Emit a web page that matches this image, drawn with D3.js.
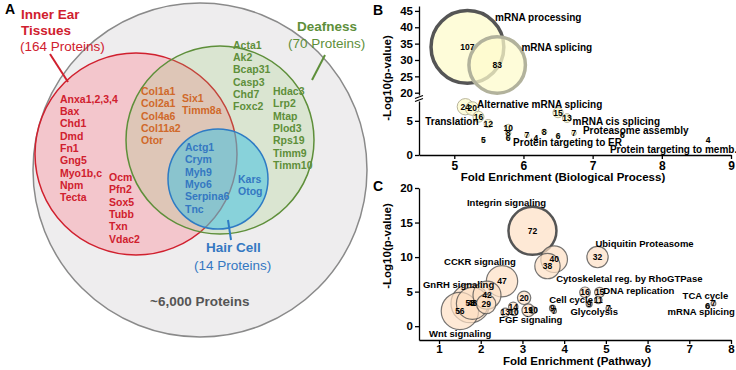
<!DOCTYPE html>
<html>
<head>
<meta charset="utf-8">
<script src="https://cdn.jsdelivr.net/npm/d3@7"></script>
<style>
  body { margin: 0; background: #fff; }
  svg { font-family: "Liberation Sans", Arial, sans-serif; }
</style>
</head>
<body>
<svg id="fig" width="736" height="370"></svg>
<script>
// ---------- Panel A data (Venn) ----------
const setInner = ['Inner Ear', 'Tissues', '(164 Proteins)'];
const setDeaf = ['Deafness', '(70 Proteins)'];
const setHair = ['Hair Cell', '(14 Proteins)'];
const totalLabel = '~6,000 Proteins';

const innerOnly1 = ['Anxa1,2,3,4', 'Bax', 'Chd1', 'Dmd', 'Fn1', 'Gng5', 'Myo1b,c', 'Npm', 'Tecta'];
const innerOnly2 = ['Ocm', 'Pfn2', 'Sox5', 'Tubb', 'Txn', 'Vdac2'];
const innerDeaf1 = ['Col1a1', 'Col2a1', 'Col4a6', 'Col11a2', 'Otor'];
const innerDeaf2 = ['Six1', 'Timm8a'];
const deafOnly1 = ['Acta1', 'Ak2', 'Bcap31', 'Casp3', 'Chd7', 'Foxc2'];
const deafOnly2 = ['Hdac3', 'Lrp2', 'Mtap', 'Plod3', 'Rps19', 'Timm9', 'Timm10'];
const hairShared = ['Actg1', 'Crym', 'Myh9', 'Myo6', 'Serpina6', 'Tnc'];
const hairDeaf = ['Kars', 'Otog'];

// ---------- Panel B data (biological process) ----------
const bpCount = [107, 83, 24, 20, 16, 12, 5, 10, 8, 6, 7, 4, 8, 6, 7, 15, 13, 6, 4];
const bpFold  = [5.19, 5.62, 5.16, 5.26, 5.35, 5.49, 5.42, 5.78, 5.78, 5.78, 6.05, 6.18, 6.30, 6.50, 6.73, 6.50, 6.63, 7.43, 8.67];
const bpLogP  = [34.0, 28.5, 7.06, 6.80, 5.60, 4.60, 2.20, 4.00, 3.20, 2.50, 2.90, 2.50, 3.40, 2.80, 3.20, 6.20, 5.40, 2.90, 2.20];

const bpTerms = ['mRNA processing', 'mRNA splicing', 'Alternative mRNA splicing', 'Translation',
  'mRNA cis splicing', 'Proteasome assembly', 'Protein targeting to ER', 'Protein targeting to memb.'];
const bpTermFold = [5.59, 5.97, 5.33, 4.58, 6.71, 6.86, 5.85, 7.25];
const bpTermLogP = [41.9, 32.8, 6.9, 4.41, 4.41, 3.09, 1.32, 0.29];

// ---------- Panel C data (pathway) ----------
const pwCount = [72, 40, 38, 32, 47, 56, 58, 48, 29, 42, 20, 14, 13, 10, 19, 10, 9, 7, 16, 15, 11, 9, 7, 6, 7];
const pwFold  = [3.24, 3.76, 3.60, 4.80, 2.51, 1.50, 1.75, 1.80, 2.13, 2.15, 3.04, 2.78, 2.59, 2.80, 3.14, 3.26, 3.72, 3.76, 4.50, 4.85, 4.82, 4.60, 5.06, 7.44, 7.58];
const pwLogP  = [13.8, 9.7, 8.7, 10.0, 6.5, 2.2, 3.3, 3.3, 3.2, 4.5, 4.1, 2.8, 2.0, 2.0, 2.3, 2.3, 2.6, 2.2, 4.9, 4.9, 3.8, 3.2, 2.6, 2.9, 3.3];

const pwTerms = ['Integrin signaling', 'Ubiquitin Proteasome', 'CCKR signaling', 'Cytoskeletal reg. by RhoGTPase',
  'GnRH signaling', 'DNA replication', 'TCA cycle', 'Cell cycle', 'Glycolysis', 'mRNA splicing', 'FGF signaling', 'Wnt signaling'];
const pwTermFold = [1.67, 4.75, 1.12, 3.81, 0.615, 4.94, 6.84, 3.64, 4.15, 6.48, 2.44, 0.76];
const pwTermLogP = [17.4, 11.45, 8.84, 6.38, 5.5, 4.64, 3.9, 3.33, 1.6, 1.6, 0.43, -1.6];

const bTicksHi = [20, 25, 30, 35, 40, 45];
const bTicksLo = [0, 5];
const bTicksX = [5, 6, 7, 8, 9];
const cTicksY = [0, 5, 10, 15, 20];
const cTicksX = [1, 2, 3, 4, 5, 6, 7, 8];

const svg = d3.select('#fig');
const fmt = d3.format('d');

// ================= Panel A =================
const gA = svg.append('g');

// background circles
gA.append('circle').attr('cx', 200).attr('cy', 170).attr('r', 167)
  .attr('fill', '#eeedee').attr('stroke', '#8a8a8a').attr('stroke-width', 1.5);
gA.append('circle').attr('cx', 136).attr('cy', 154).attr('r', 101)
  .attr('fill', 'rgba(255,110,125,0.3)').attr('stroke', '#d0202e').attr('stroke-width', 1.5);
gA.append('circle').attr('cx', 220).attr('cy', 140).attr('r', 94)
  .attr('fill', 'rgba(150,200,110,0.22)').attr('stroke', '#5e8f3a').attr('stroke-width', 1.5);
gA.append('circle').attr('cx', 218).attr('cy', 179).attr('r', 50)
  .attr('fill', 'rgba(70,195,225,0.55)').attr('stroke', '#2e7bc4').attr('stroke-width', 1.5);

// pointer lines
gA.append('line').attr('x1', 50).attr('y1', 54).attr('x2', 68).attr('y2', 82)
  .attr('stroke', '#d0202e').attr('stroke-width', 2);
gA.append('line').attr('x1', 325).attr('y1', 55).attr('x2', 312).attr('y2', 80)
  .attr('stroke', '#5e8f3a').attr('stroke-width', 2);
gA.append('line').attr('x1', 228).attr('y1', 220).attr('x2', 231).attr('y2', 240)
  .attr('stroke', '#2e7bc4').attr('stroke-width', 2);

gA.append('text').attr('x', 5).attr('y', 14).text('A')
  .attr('font-weight', 'bold').attr('font-size', 14);

// set titles
const red = '#d0202e', green = '#5e8f3a', blue = '#3478c2', orange = '#d0692a';
gA.append('text').attr('x', 21).attr('y', 19).text(setInner[0])
  .attr('fill', red).attr('font-weight', 'bold').attr('font-size', 13.5);
gA.append('text').attr('x', 21).attr('y', 35).text(setInner[1])
  .attr('fill', red).attr('font-weight', 'bold').attr('font-size', 13.5);
gA.append('text').attr('x', 20).attr('y', 51).text(setInner[2])
  .attr('fill', red).attr('font-size', 13.5);
gA.append('text').attr('x', 297).attr('y', 31).text(setDeaf[0])
  .attr('fill', green).attr('font-weight', 'bold').attr('font-size', 13.5);
gA.append('text').attr('x', 288).attr('y', 48).text(setDeaf[1])
  .attr('fill', green).attr('font-size', 13.5);
gA.append('text').attr('x', 206).attr('y', 252).text(setHair[0])
  .attr('fill', blue).attr('font-weight', 'bold').attr('font-size', 13.5);
gA.append('text').attr('x', 194).attr('y', 270).text(setHair[1])
  .attr('fill', blue).attr('font-size', 13.5);
gA.append('text').attr('x', 150).attr('y', 306).text(totalLabel)
  .attr('fill', '#555').attr('font-weight', 'bold').attr('font-size', 13.5);

// gene columns
const lineStep = 12.35;
function geneColumn(list, x, y0, color) {
  gA.append('g').selectAll('text').data(list).join('text')
    .attr('x', x)
    .attr('y', (d, i) => y0 + i * lineStep)
    .attr('fill', color)
    .attr('font-weight', 'bold')
    .attr('font-size', 10.5)
    .text(d => d);
}
geneColumn(innerOnly1, 60, 102.5, red);
geneColumn(innerOnly2, 109, 181, red);
geneColumn(innerDeaf1, 141, 95, orange);
geneColumn(innerDeaf2, 182, 102, orange);
geneColumn(deafOnly1, 233, 48.5, green);
geneColumn(deafOnly2, 273, 95, green);
geneColumn(hairShared, 185, 151, blue);
geneColumn(hairDeaf, 238, 182.5, blue);

// ================= shared axis styling =================
function styleAxis(g, size) {
  g.selectAll('path, line').attr('stroke', '#000').attr('stroke-width', 1.3);
  g.selectAll('text').attr('font-weight', 'bold').attr('font-size', size)
    .attr('font-family', '"Liberation Sans", Arial, sans-serif').attr('fill', '#000');
}

// ================= Panel B =================
const gB = svg.append('g');
const xB = d3.scaleLinear().domain([4.49, 9]).range([419, 731]);
const yBHi = d3.scaleLinear().domain([19.3, 46.5]).range([95, 6]);
const yBLo = d3.scaleLinear().domain([0, 7.9]).range([155, 101]);
const yB = v => (v >= 19 ? yBHi(v) : yBLo(v));
const rB = d3.scaleLinear().domain([0, 107]).range([0, 36.4]);

const bIdx = d3.range(bpCount.length).sort((a, b) => bpCount[b] - bpCount[a]);
gB.append('g').selectAll('circle').data(bIdx).join('circle')
  .attr('cx', i => xB(bpFold[i]))
  .attr('cy', i => yB(bpLogP[i]))
  .attr('r', i => rB(bpCount[i]))
  .attr('fill', '#fdfbcc')
  .attr('fill-opacity', 0.75)
  .attr('stroke', i => bpCount[i] > 100 ? '#555' : bpCount[i] > 50 ? '#b2b29c' : '#b8b49a')
  .attr('stroke-width', i => bpCount[i] > 50 ? 3.5 : 1);

gB.append('g').selectAll('text').data(bIdx).join('text')
  .attr('x', i => xB(bpFold[i]))
  .attr('y', i => yB(bpLogP[i]))
  .attr('dy', '0.35em')
  .attr('text-anchor', 'middle')
  .attr('font-weight', 'bold')
  .attr('font-size', 8.5)
  .text(i => bpCount[i]);

gB.append('g').selectAll('text').data(bpTerms).join('text')
  .attr('x', (d, i) => xB(bpTermFold[i]))
  .attr('y', (d, i) => yB(bpTermLogP[i]))
  .attr('font-weight', 'bold')
  .attr('font-size', 10)
  .text(d => d);

const bAxHi = gB.append('g').attr('transform', 'translate(419,0)')
  .call(d3.axisLeft(yBHi).tickValues(bTicksHi).tickFormat(fmt).tickSize(4).tickSizeOuter(0).tickPadding(2));
styleAxis(bAxHi, 11.5);
const bAxLo = gB.append('g').attr('transform', 'translate(419,0)')
  .call(d3.axisLeft(yBLo).tickValues(bTicksLo).tickFormat(fmt).tickSize(4).tickSizeOuter(0).tickPadding(2));
styleAxis(bAxLo, 11.5);
// axis break marks
gB.append('path').attr('d', 'M415,98.5L423,95.5M415,101.5L423,98.5')
  .attr('stroke', '#000').attr('stroke-width', 1.2).attr('fill', 'none');

const bAxX = gB.append('g').attr('transform', 'translate(0,155)')
  .call(d3.axisBottom(xB).tickValues(bTicksX).tickFormat(fmt).tickSize(4).tickSizeOuter(0).tickPadding(2));
styleAxis(bAxX, 12);

gB.append('text').attr('x', 563).attr('y', 181).attr('text-anchor', 'middle')
  .attr('font-weight', 'bold').attr('font-size', 11.5)
  .text('Fold Enrichment (Biological Process)');
gB.append('text').attr('transform', 'translate(391,78) rotate(-90)').attr('text-anchor', 'middle')
  .attr('font-weight', 'bold').attr('font-size', 11.5).text('-Log10(p-value)');
gB.append('text').attr('x', 373).attr('y', 15).text('B')
  .attr('font-weight', 'bold').attr('font-size', 14);

// ================= Panel C =================
const gC = svg.append('g');
const xC = d3.scaleLinear().domain([0.52, 8]).range([419, 731]);
const yC = d3.scaleLinear().domain([-2, 20]).range([340, 188]);
const rC = d3.scaleLinear().domain([0, 72]).range([0, 24]);

const cIdx = d3.range(pwCount.length).sort((a, b) => pwCount[b] - pwCount[a]);
gC.append('g').selectAll('circle').data(cIdx).join('circle')
  .attr('cx', i => xC(pwFold[i]))
  .attr('cy', i => yC(pwLogP[i]))
  .attr('r', i => rC(pwCount[i]))
  .attr('fill', '#fde0c4')
  .attr('fill-opacity', 0.7)
  .attr('stroke', i => pwCount[i] > 60 ? '#555' : '#4a4a4a')
  .attr('stroke-opacity', i => pwCount[i] > 60 ? 1 : 0.75)
  .attr('stroke-width', i => pwCount[i] > 60 ? 2.5 : 1.2);

gC.append('g').selectAll('text').data(cIdx).join('text')
  .attr('x', i => xC(pwFold[i]))
  .attr('y', i => yC(pwLogP[i]))
  .attr('dy', '0.35em')
  .attr('text-anchor', 'middle')
  .attr('font-weight', 'bold')
  .attr('font-size', 8.5)
  .text(i => pwCount[i]);

gC.append('g').selectAll('text').data(pwTerms).join('text')
  .attr('x', (d, i) => xC(pwTermFold[i]))
  .attr('y', (d, i) => yC(pwTermLogP[i]))
  .attr('font-weight', 'bold')
  .attr('font-size', 9.5)
  .text(d => d);

const cAxY = gC.append('g').attr('transform', 'translate(419,0)')
  .call(d3.axisLeft(yC).tickValues(cTicksY).tickFormat(fmt).tickSize(4).tickSizeOuter(0).tickPadding(2));
styleAxis(cAxY, 11.5);
const cAxX = gC.append('g').attr('transform', 'translate(0,340)')
  .call(d3.axisBottom(xC).tickValues(cTicksX).tickFormat(fmt).tickSize(4).tickSizeOuter(0).tickPadding(1));
styleAxis(cAxX, 11.5);

gC.append('text').attr('x', 577).attr('y', 365).attr('text-anchor', 'middle')
  .attr('font-weight', 'bold').attr('font-size', 11.5)
  .text('Fold Enrichment (Pathway)');
gC.append('text').attr('transform', 'translate(391,246) rotate(-90)').attr('text-anchor', 'middle')
  .attr('font-weight', 'bold').attr('font-size', 11.5).text('-Log10(p-value)');
gC.append('text').attr('x', 373).attr('y', 191).text('C')
  .attr('font-weight', 'bold').attr('font-size', 14);
</script>
</body>
</html>
